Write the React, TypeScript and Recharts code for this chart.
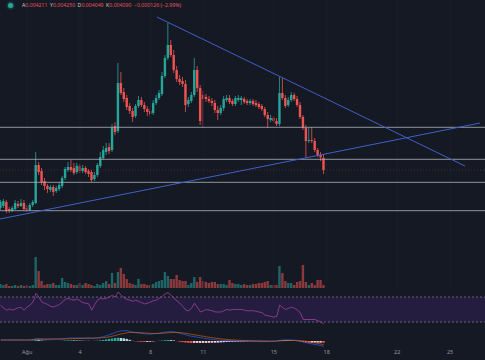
import { Bar, Cell, ComposedChart, Line, ReferenceArea, ReferenceLine, XAxis, YAxis } from "recharts";

// 4h candles, index 0 = Jul 30 12:00, index 9 = Aug 1 00:00
const opens = [
  0.00371, 0.00373, 0.00377, 0.0037, 0.00368, 0.0037, 0.00375, 0.00373, 0.00376, 0.00371,
  0.00369, 0.00374, 0.00376, 0.00414, 0.00408, 0.00398, 0.00393, 0.00389, 0.00392, 0.00388,
  0.0039, 0.00393, 0.00401, 0.00409, 0.00412, 0.00411, 0.00407, 0.00413, 0.00408, 0.00411,
  0.00408, 0.00407, 0.004, 0.00404, 0.00413, 0.00421, 0.00427, 0.00432, 0.00429, 0.00453,
  0.00448, 0.00496, 0.00487, 0.00481, 0.00473, 0.00468, 0.00463, 0.00473, 0.00479, 0.00474,
  0.0047, 0.00468, 0.00466, 0.00476, 0.00481, 0.00485, 0.00503, 0.00521, 0.00534, 0.00524,
  0.00509, 0.005, 0.00498, 0.00495, 0.00475, 0.00478, 0.00484, 0.00509, 0.00491, 0.00484,
  0.00482, 0.0048, 0.00478, 0.00476, 0.00469, 0.00466, 0.00471, 0.00479, 0.00481, 0.00478,
  0.00475, 0.00479, 0.00479, 0.0048, 0.00478, 0.00476, 0.00478, 0.00476, 0.00475, 0.00473,
  0.0047, 0.00464, 0.00459, 0.00461, 0.00458, 0.00455, 0.00486, 0.00481, 0.00474, 0.00479,
  0.00484, 0.0048, 0.00474, 0.00462, 0.00451, 0.00438, 0.00439, 0.00438, 0.00429, 0.00424,
  0.004211,
];
const highs = [
  0.00379, 0.0038, 0.00379, 0.00372, 0.00373, 0.00379, 0.00378, 0.0038, 0.00379, 0.00374,
  0.00376, 0.00379, 0.00427, 0.00417, 0.00411, 0.00401, 0.00395, 0.00394, 0.00394, 0.00393,
  0.00396, 0.00403, 0.00412, 0.00417, 0.00419, 0.00416, 0.00416, 0.00415, 0.00414, 0.00413,
  0.0041, 0.00409, 0.00407, 0.00416, 0.00427, 0.00433, 0.00436, 0.00436, 0.00455, 0.00457,
  0.00516, 0.00507, 0.00491, 0.00484, 0.00476, 0.00471, 0.00475, 0.00483, 0.00482, 0.00477,
  0.00473, 0.00471, 0.00479, 0.00484, 0.00489, 0.00507, 0.00524, 0.00556, 0.00539, 0.00529,
  0.00513, 0.00504, 0.00502, 0.00499, 0.00482, 0.00487, 0.00521, 0.00513, 0.00494, 0.00488,
  0.00485, 0.00483, 0.00481, 0.00479, 0.00473, 0.00474, 0.00483, 0.00484, 0.00484, 0.0048,
  0.00483, 0.00484, 0.00483, 0.00482, 0.0048, 0.0048, 0.0048, 0.00479, 0.00477, 0.00475,
  0.00472, 0.00467, 0.00464, 0.00463, 0.00461, 0.00502, 0.00501, 0.00484, 0.00482, 0.00487,
  0.00486, 0.00483, 0.00477, 0.00464, 0.00454, 0.00451, 0.00452, 0.00441, 0.00431, 0.00427,
  0.00425,
];
const lows = [
  0.00369, 0.00371, 0.00366, 0.00366, 0.00367, 0.00369, 0.00371, 0.00372, 0.00368, 0.00367,
  0.00368, 0.00372, 0.00375, 0.00404, 0.00394, 0.00389, 0.00386, 0.00387, 0.00383, 0.00386,
  0.00388, 0.00391, 0.00399, 0.00407, 0.00407, 0.00404, 0.00405, 0.00406, 0.00406, 0.00405,
  0.00402, 0.00397, 0.00398, 0.00402, 0.00411, 0.00419, 0.00424, 0.00425, 0.00427, 0.00444,
  0.00446, 0.00484, 0.00477, 0.00469, 0.00465, 0.00457, 0.00461, 0.00471, 0.00472, 0.00467,
  0.00463, 0.00462, 0.00464, 0.00474, 0.00479, 0.00483, 0.00501, 0.00519, 0.00522, 0.00506,
  0.00497, 0.00494, 0.00492, 0.00467, 0.00472, 0.00476, 0.00482, 0.00487, 0.00454, 0.00451,
  0.00477, 0.00476, 0.00473, 0.00466, 0.00459, 0.00464, 0.00468, 0.00477, 0.00475, 0.00473,
  0.00473, 0.00477, 0.00474, 0.00475, 0.00474, 0.00474, 0.00473, 0.00472, 0.0047, 0.00468,
  0.00462, 0.00451, 0.00457, 0.00456, 0.00453, 0.00453, 0.00479, 0.00471, 0.00472, 0.00477,
  0.00478, 0.00472, 0.0046, 0.00449, 0.00422, 0.00436, 0.00436, 0.00427, 0.00422, 0.00418,
  0.004049,
];
const closes = [
  0.00377, 0.00378, 0.00368, 0.00368, 0.00371, 0.00376, 0.00373, 0.00376, 0.0037, 0.00369,
  0.00374, 0.00377, 0.00414, 0.00407, 0.00397, 0.00393, 0.0039, 0.00392, 0.00387, 0.00391,
  0.00394, 0.00401, 0.0041, 0.00412, 0.00409, 0.00406, 0.00413, 0.00408, 0.00411, 0.00407,
  0.00405, 0.00399, 0.00404, 0.00414, 0.00422, 0.00429, 0.00431, 0.00428, 0.00452, 0.00447,
  0.00496, 0.00486, 0.0048, 0.00472, 0.00468, 0.00462, 0.00473, 0.00479, 0.00474, 0.0047,
  0.00467, 0.00465, 0.00476, 0.00481, 0.00486, 0.00503, 0.00521, 0.00534, 0.00524, 0.00509,
  0.005, 0.00497, 0.00495, 0.00474, 0.00479, 0.00484, 0.00509, 0.00491, 0.00458, 0.0048,
  0.0048, 0.00478, 0.00476, 0.00469, 0.00466, 0.00471, 0.0048, 0.00481, 0.00477, 0.00475,
  0.00481, 0.00481, 0.00481, 0.00477, 0.00476, 0.00478, 0.00475, 0.00474, 0.00472, 0.0047,
  0.00464, 0.0046, 0.00461, 0.00458, 0.00455, 0.00486, 0.00481, 0.00473, 0.00479, 0.00484,
  0.0048, 0.00474, 0.00462, 0.00451, 0.00438, 0.00439, 0.00438, 0.00429, 0.00424, 0.004216,
  0.00409,
];
const volumes = [
  4, 3, 4, 2, 2, 3, 2, 3, 2, 3, 2, 3,
  31, 17, 7, 3, 4, 4, 5, 3, 3, 10,
  6, 5, 4, 3, 3, 5, 3, 5, 4, 3,
  2, 4, 3, 5, 7, 4, 15, 5, 16, 20,
  14, 9, 5, 4, 3, 9, 4, 4, 3, 3,
  4, 6, 7, 8, 16, 12, 9, 9, 13, 8,
  7, 7, 3, 5, 11, 6, 11, 7, 6, 5,
  6, 6, 4, 4, 4, 3, 8, 5, 4, 4,
  3, 4, 3, 3, 4, 4, 5, 5, 6, 7,
  3, 3, 3, 22, 15, 7, 5, 5, 3, 6,
  7, 23, 6, 3, 5, 3, 8, 8, 3,
];
const rsi = [
  57, 52, 49, 51, 49, 51, 53, 53, 49, 54, 57, 62,
  76, 70, 62, 60, 58, 55, 54, 56, 58, 62,
  66, 68, 66, 65, 67, 64, 61, 60, 59, 49,
  58, 65, 68, 67, 68, 70, 73, 70, 78, 73,
  69, 66, 65, 63, 65, 63, 61, 59, 60, 62,
  64, 65, 68, 71, 75, 77, 73, 68, 64, 60,
  55, 49, 48, 52, 60, 53, 46, 48, 50, 49,
  48, 46, 46, 46, 48, 50, 49, 50, 50, 50,
  50, 49, 48, 48, 48, 47, 46, 45, 41, 40,
  39, 38, 39, 57, 53, 50, 52, 54, 52, 49,
  45, 34, 34, 34, 34, 34, 32, 30, 27,
];
const macd = [
  1, 1, 1, 1, 1, 1, 1, 1, 1, 1, 1,
  1.5, 2.5, 2.5, 2.2, 2, 2, 2, 2, 2, 2,
  2.2, 2.5, 2.8, 3, 3, 3, 3, 3, 3, 3,
  2.8, 3, 3.2, 3.8, 4.3, 5.3, 6.3, 7.3, 8.5, 9.5,
  10, 10.3, 10.3, 9.7, 8.8, 8.3, 7.9, 7.5, 7.2, 7,
  7, 7.2, 7.5, 7.8, 8.3, 8.8, 9.2, 9.3, 9.2, 8.5,
  7.7, 7, 6.2, 5.4, 4.7, 4.3, 3.8, 3.3, 2.8, 2.3,
  1.9, 1.6, 1.2, 0.9, 0.7, 0.6, 0.5, 0.4, 0.3, 0.2,
  0.1, 0, 0, 0, 0, -0.1, -0.2, -0.2, -0.3, -0.3,
  -0.3, -0.2, -0.2, 0, 0.6, 1, 1.1, 1.1, 1, 0.8,
  0.4, -0.2, -1, -1.8, -2.4, -2.9, -3.4, -4, -4.6, -5.4,
];
const signal = [
  1, 1, 1, 1, 1, 1, 1, 1, 1, 1, 1,
  1.2, 1.4, 1.6, 1.7, 1.8, 1.8, 1.9, 1.9, 2, 2,
  2, 2.1, 2.2, 2.3, 2.4, 2.5, 2.6, 2.7, 2.7, 2.8,
  2.8, 2.8, 2.9, 3.1, 3.3, 3.7, 4.2, 4.8, 5.5, 6.3,
  7, 7.6, 8.2, 8.5, 8.6, 8.6, 8.5, 8.3, 8.1, 7.9,
  7.7, 7.6, 7.6, 7.6, 7.8, 8, 8.2, 8.4, 8.6, 8.6,
  8.4, 8.1, 7.7, 7.2, 6.7, 6.2, 5.7, 5.2, 4.7, 4.2,
  3.7, 3.3, 2.9, 2.5, 2.1, 1.8, 1.5, 1.3, 1.1, 0.9,
  0.8, 0.6, 0.5, 0.4, 0.3, 0.2, 0.1, 0.1, 0, 0,
  -0.1, -0.1, -0.1, -0.1, 0, 0.2, 0.4, 0.5, 0.6, 0.6,
  0.6, 0.4, 0.1, -0.3, -0.8, -1.3, -1.8, -2.4, -3, -3.6,
];
const hist = [
  0, 0, 0, 0, 0, 0, 0, 0, 0, 0, 0,
  0.3, 1.1, 0.9, 0.5, 0.2, 0.2, 0.1, 0.1, 0, 0,
  0.2, 0.4, 0.6, 0.7, 0.6, 0.5, 0.4, 0.3, 0.3, 0.2,
  0, 0.2, 0.3, 0.7, 1, 1.6, 2.1, 2.5, 3, 3.2,
  3, 2.7, 2.1, 1.2, 0.2, -0.3, -0.6, -0.8, -0.9, -0.9,
  -0.7, -0.4, -0.1, 0.2, 0.5, 0.8, 1, 0.9, 0.6, -0.1,
  -0.7, -1.1, -1.5, -1.8, -2, -1.9, -1.9, -1.9, -1.9, -1.9,
  -1.8, -1.7, -1.7, -1.6, -1.4, -1.2, -1, -0.9, -0.8, -0.7,
  -0.7, -0.6, -0.5, -0.4, -0.3, -0.3, -0.3, -0.3, -0.3, -0.3,
  -0.2, -0.1, -0.1, 0.1, 0.6, 0.8, 0.7, 0.6, 0.4, 0.2,
  -0.2, -0.6, -1.1, -1.5, -1.6, -1.6, -1.6, -1.6, -1.6, -1.8,
];

const levels = [0.004517, 0.004197, 0.003967, 0.003683];
const trendLines = [
  { x1: 53.2, y1: 0.00562, x2: 158.1, y2: 0.00413 },
  { x1: -0.24, y1: 0.0036, x2: 163.2, y2: 0.00456 },
];
const tickIdx = [9, 27, 51, 69, 93, 111, 135, 153];
const tickLabels = ["Ağu", "4", "8", "11", "15", "18", "22", "25"];

const W = 485;
const X_DOMAIN = [-0.24, 164.9];
const BG = "#151924";
const UP = "#26a69a";
const DOWN = "#ef5350";
const FONT = "'Noto Sans', Roboto, sans-serif";
const M = { top: 0, right: 0, bottom: 0, left: 0 };

const rows = opens.map((o, i) => ({
  t: i,
  open: o,
  high: highs[i],
  low: lows[i],
  close: closes[i],
  range: [lows[i], highs[i]],
  vol: volumes[i],
  rsi: rsi[i],
  macd: macd[i],
  signal: signal[i],
  hist: hist[i],
}));

function Candle(props: any) {
  const { x, y, width, height, payload } = props;
  if (x == null || y == null) return null;
  const top = Math.min(y, y + height);
  const bot = Math.max(y, y + height);
  const span = payload.high - payload.low || 1e-9;
  const k = (bot - top) / span;
  const yo = top + (payload.high - payload.open) * k;
  const yc = top + (payload.high - payload.close) * k;
  const color = payload.close >= payload.open ? UP : DOWN;
  const cx = x + width / 2;
  return (
    <g>
      <line x1={cx} x2={cx} y1={top} y2={bot} stroke={color} strokeWidth={0.8} />
      <rect x={cx - 1.2} y={Math.min(yo, yc)} width={2.4} height={Math.max(Math.abs(yc - yo), 0.8)} fill={color} />
    </g>
  );
}

const histColor = (i: number) => {
  const h = hist[i];
  const prev = i > 0 ? hist[i - 1] : 0;
  if (h >= 0) return h >= prev ? "#26a69a" : "#b2dfdb";
  return h < prev ? "#ff5252" : "#ffcdd2";
};

const xAxisHidden = <XAxis dataKey="t" type="number" domain={X_DOMAIN} allowDataOverflow hide />;

export default function App() {
  const last = rows[rows.length - 1];
  const prev = rows[rows.length - 2];
  const chg = last.close - prev.close;
  const pct = (chg / prev.close) * 100;
  const header = [
    { k: "A", v: last.open.toFixed(6) },
    { k: "Y", v: last.high.toFixed(6) },
    { k: "D", v: last.low.toFixed(6) },
    { k: "K", v: last.close.toFixed(6) },
  ];

  return (
    <div style={{ position: "fixed", left: 0, top: 0, width: W, height: 360, background: BG, overflow: "hidden", fontFamily: FONT }}>
      {/* volume, bottom of main pane */}
      <div style={{ position: "absolute", left: 0, top: 240 }}>
        <ComposedChart width={W} height={48} data={rows} margin={M}>
          {xAxisHidden}
          <YAxis hide domain={[0, 48]} allowDataOverflow />
          <Bar dataKey="vol" barSize={2.4} isAnimationActive={false}>
            {rows.map((r, i) => (
              <Cell key={i} fill={r.close >= r.open ? UP : DOWN} fillOpacity={0.55} />
            ))}
          </Bar>
        </ComposedChart>
      </div>

      {/* price pane */}
      <div style={{ position: "absolute", left: 0, top: 0 }}>
        <ComposedChart width={W} height={288} data={rows} margin={M}>
          {xAxisHidden}
          <YAxis hide domain={[0.00291, 0.00579]} allowDataOverflow />
          {tickIdx.map((t) => (
            <ReferenceLine key={t} x={t} stroke="#1b1f2d" strokeWidth={1} />
          ))}
          <ReferenceLine y={last.close} stroke={DOWN} strokeOpacity={0.25} strokeDasharray="1 2" />
          {levels.map((p) => (
            <ReferenceLine key={p} y={p} stroke="#a7aab3" strokeOpacity={0.85} strokeWidth={1} />
          ))}
          {trendLines.map((l, i) => (
            <ReferenceLine
              key={i}
              segment={[{ x: l.x1, y: l.y1 }, { x: l.x2, y: l.y2 }]}
              stroke="#3f5fc8"
              strokeWidth={1}
              ifOverflow="hidden"
            />
          ))}
          <Bar dataKey="range" barSize={2.4} shape={<Candle />} isAnimationActive={false} />
        </ComposedChart>
      </div>

      {/* RSI */}
      <div style={{ position: "absolute", left: 0, top: 288 }}>
        <ComposedChart width={W} height={39} data={rows} margin={M}>
          {xAxisHidden}
          <YAxis hide domain={[22, 84.4]} allowDataOverflow />
          <ReferenceArea y1={30} y2={70} fill="#6a2bb0" fillOpacity={0.2} stroke="none" />
          <ReferenceLine y={70} stroke="#8a7a9a" strokeDasharray="2 2" strokeOpacity={0.7} />
          <ReferenceLine y={30} stroke="#8a7a9a" strokeDasharray="2 2" strokeOpacity={0.7} />
          <Line dataKey="rsi" stroke="#a2409a" strokeWidth={0.8} dot={false} isAnimationActive={false} />
        </ComposedChart>
      </div>

      {/* MACD + time axis */}
      <div style={{ position: "absolute", left: 0, top: 327 }}>
        <ComposedChart width={W} height={33} data={rows} margin={M}>
          <XAxis
            dataKey="t"
            type="number"
            domain={X_DOMAIN}
            allowDataOverflow
            ticks={tickIdx}
            tickFormatter={(v) => tickLabels[tickIdx.indexOf(v)] ?? ""}
            height={13}
            axisLine={false}
            tickLine={false}
            tickSize={0}
            tickMargin={3}
            tick={{ fontSize: 5.5, fill: "#9598a1", fontFamily: FONT }}
          />
          <YAxis hide domain={[-6, 14]} allowDataOverflow />
          <Bar dataKey="hist" barSize={2.4} isAnimationActive={false}>
            {rows.map((_, i) => (
              <Cell key={i} fill={histColor(i)} />
            ))}
          </Bar>
          <Line dataKey="macd" stroke="#2962ff" strokeOpacity={0.85} strokeWidth={0.8} dot={false} isAnimationActive={false} />
          <Line dataKey="signal" stroke="#ff6d00" strokeOpacity={0.7} strokeWidth={0.8} dot={false} isAnimationActive={false} />
        </ComposedChart>
      </div>

      {/* legend header */}
      <div style={{ position: "absolute", left: 8, top: 3, width: 5, height: 5, borderRadius: 3, background: UP, boxShadow: `0 0 3px ${UP}` }} />
      <div style={{ position: "absolute", left: 22, top: 1, fontSize: 5.2, lineHeight: "9px", whiteSpace: "nowrap", color: "#e2555b" }}>
        {header.map((h) => (
          <span key={h.k} style={{ marginRight: 2.5 }}>
            <span style={{ color: "#c8cad0" }}>{h.k}</span>
            {h.v}
          </span>
        ))}
        <span>
          {chg < 0 ? "−" : "+"}
          {Math.abs(chg).toFixed(6)} ({chg < 0 ? "−" : "+"}
          {Math.abs(pct).toFixed(2)}%)
        </span>
      </div>
    </div>
  );
}
